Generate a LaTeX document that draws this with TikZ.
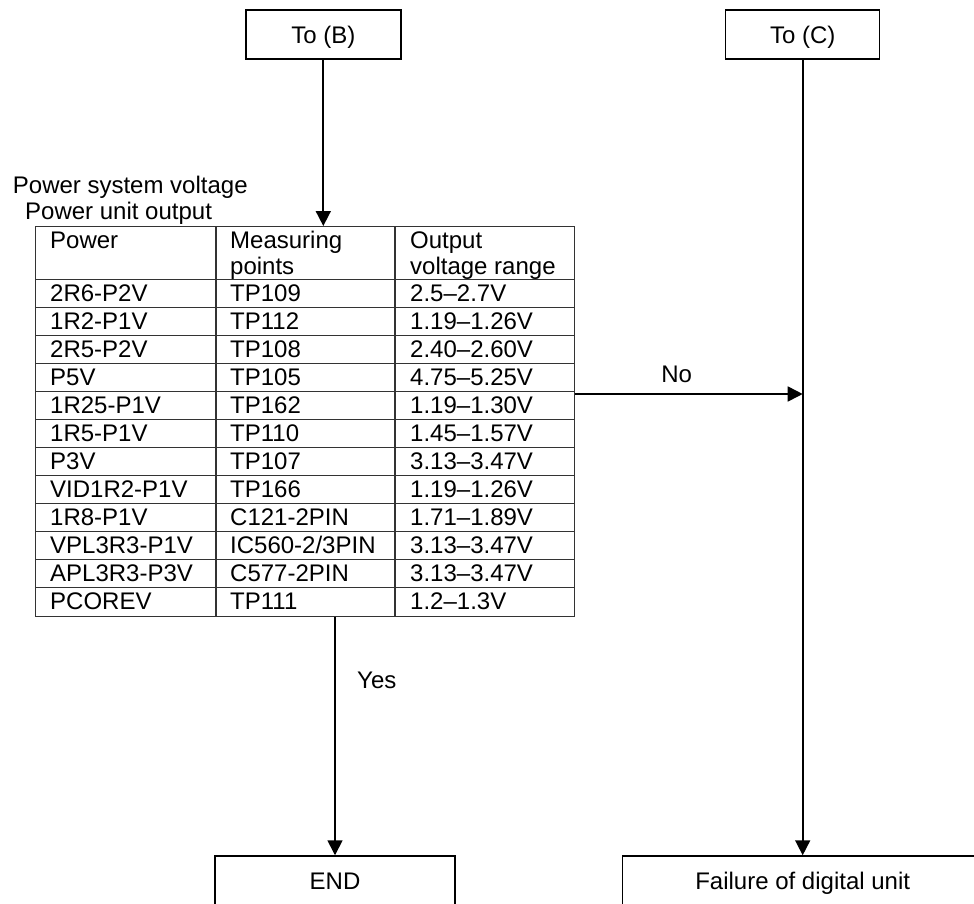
\documentclass[tikz,border=0pt]{standalone}
\usepackage{fontspec}
\setmainfont{Liberation Sans}
\usetikzlibrary{arrows.meta}

% one table row: #1 = row number (1..12), #2..#4 = cell texts
\newcommand\tabrow[4]{%
  \node[cell] (pw#1) at (50,{279.5+28*#1-6.5}) {#2};
  \node[cell] (mp#1) at (230,{279.5+28*#1-6.5}) {#3};
  \node[cell] (ov#1) at (410,{279.5+28*#1-6.5}) {#4};
}

\begin{document}
\begin{tikzpicture}[x=1pt,y=-1pt,
  every node/.style={font=\fontsize{24}{27.6}\selectfont},
  flowbox/.style={draw, line width=1.5pt, minimum height=49pt, inner sep=0pt,
                  text height=17.5pt, text depth=0pt},
  flow/.style={line width=1.7pt, -{Triangle[length=15pt,width=15pt]}},
  grid/.style={line width=1.2pt, draw=black!80},
  cell/.style={anchor=base west, inner sep=0pt},
]
\useasboundingbox (0,0) rectangle (974,903);
\clip (0,0) rectangle (974,903);

% flow boxes
\node[flowbox, minimum width=155pt] (tob) at (323.3,34.5) {To (B)};
\node[flowbox, minimum width=154pt] (toc) at (802.7,34.5) {To (C)};
\node[flowbox, minimum width=240pt] (endbox) at (335,880.5) {END};
\node[flowbox, minimum width=360pt] (fail) at (802.7,880.5) {Failure of digital unit};

% caption above the table
\node[cell] (cap1) at (12.7,193.3) {Power system voltage};
\node[cell] (cap2) at (25,219.3) {Power unit output};

% table frame and rules
\node[grid, draw, minimum width=539pt, minimum height=389.5pt,
      anchor=north west, inner sep=0pt] (tbl) at (35,226) {};
\draw[grid] (216,226) -- (216,615.5);
\draw[grid] (395,226) -- (395,615.5);
\foreach \k in {0,...,11}
  \draw[grid] (35,279.5+28*\k) -- (574,279.5+28*\k);

% header cells
\node[cell] (h1) at (50,248.3) {Power};
\node[cell] (h2a) at (230,248.3) {Measuring};
\node[cell] (h2b) at (230,274.5) {points};
\node[cell] (h3a) at (410,248.3) {Output};
\node[cell] (h3b) at (410,274.5) {voltage range};

% body rows
\tabrow{1}{2R6-P2V}{TP109}{2.5–2.7V}
\tabrow{2}{1R2-P1V}{TP112}{1.19–1.26V}
\tabrow{3}{2R5-P2V}{TP108}{2.40–2.60V}
\tabrow{4}{P5V}{TP105}{4.75–5.25V}
\tabrow{5}{1R25-P1V}{TP162}{1.19–1.30V}
\tabrow{6}{1R5-P1V}{TP110}{1.45–1.57V}
\tabrow{7}{P3V}{TP107}{3.13–3.47V}
\tabrow{8}{VID1R2-P1V}{TP166}{1.19–1.26V}
\tabrow{9}{1R8-P1V}{C121-2PIN}{1.71–1.89V}
\tabrow{10}{VPL3R3-P1V}{IC560-2/3PIN}{3.13–3.47V}
\tabrow{11}{APL3R3-P3V}{C577-2PIN}{3.13–3.47V}
\tabrow{12}{PCOREV}{TP111}{1.2–1.3V}

% connectors
\coordinate (nojoin) at (802.7,394);
\draw[flow] (tob.south) -- (tob.south |- tbl.north);
\draw[flow] (toc.south) -- (toc.south |- fail.north);
\draw[flow] (tbl.east |- nojoin) -- (nojoin);
\draw[flow] (tbl.south -| endbox.north) -- (endbox.north);

% branch labels
\node[anchor=base, inner sep=0pt] (nolabel) at (676.7,382.6) {No};
\node[cell] (yeslabel) at (357,688) {Yes};
\end{tikzpicture}
\end{document}
